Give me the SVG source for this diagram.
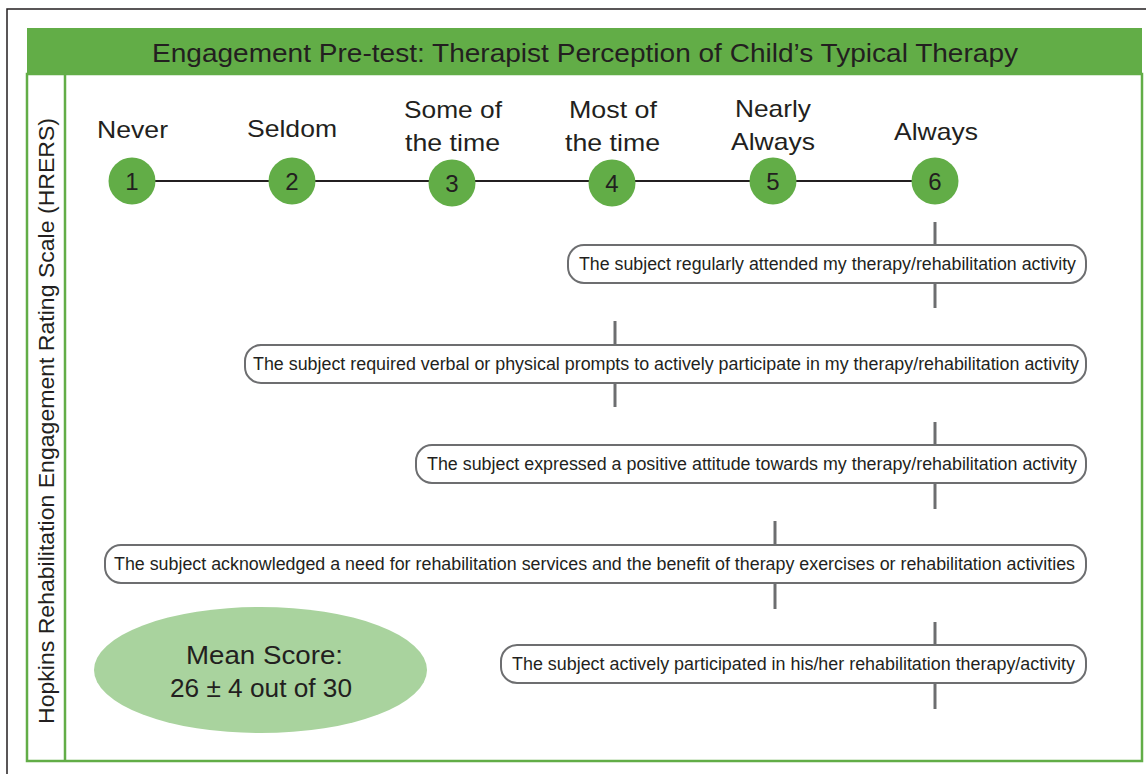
<svg xmlns="http://www.w3.org/2000/svg" width="1146" height="774" viewBox="0 0 1146 774">
<style>
.t{font-family:"Liberation Sans",Arial,sans-serif;fill:#231f20}
.lab{font-size:24px;text-anchor:middle}
.num{font-size:24px;text-anchor:middle}
.st{font-size:17.5px;text-anchor:middle}
.pill{fill:#fff;stroke:#6d6e70;stroke-width:2}
.tick{stroke:#6d6e70;stroke-width:3}
.dot{fill:#62ad47}
</style>
<rect x="0" y="0" width="1146" height="774" fill="#fff"/>
<path d="M7,774 V9 H1146" fill="none" stroke="#231f20" stroke-width="1.5"/>
<g id="frame">
<rect x="27" y="28" width="1115" height="46" fill="#62ad47"/>
<rect x="27" y="74" width="1115" height="687" fill="none" stroke="#62ad47" stroke-width="2.5"/>
<line x1="65" y1="74" x2="65" y2="761" stroke="#62ad47" stroke-width="2.5"/>
<text class="t" x="585" y="62" font-size="25.5" text-anchor="middle" textLength="866" lengthAdjust="spacingAndGlyphs">Engagement Pre-test: Therapist Perception of Child’s Typical Therapy</text>
<text class="t" transform="translate(54,421) rotate(-90)" font-size="22.5" text-anchor="middle" textLength="606" lengthAdjust="spacingAndGlyphs">Hopkins Rehabilitation Engagement Rating Scale (HRERS)</text>
</g>
<g id="connectors">
<line x1="132" y1="181" x2="935" y2="181" stroke="#231f20" stroke-width="2"/>
<line class="tick" x1="935" y1="222" x2="935" y2="245"/>
<line class="tick" x1="935" y1="283" x2="935" y2="308"/>
<line class="tick" x1="615" y1="321" x2="615" y2="345"/>
<line class="tick" x1="615" y1="383" x2="615" y2="407"/>
<line class="tick" x1="935" y1="422" x2="935" y2="445"/>
<line class="tick" x1="935" y1="483" x2="935" y2="509"/>
<line class="tick" x1="775" y1="521" x2="775" y2="545"/>
<line class="tick" x1="775" y1="583" x2="775" y2="609"/>
<line class="tick" x1="935" y1="622" x2="935" y2="645"/>
<line class="tick" x1="935" y1="683" x2="935" y2="709"/>
</g>
<g id="n1"><circle class="dot" cx="132" cy="181" r="23.5"/><text class="t num" x="132" y="190">1</text><text class="t lab" x="132.5" y="138" textLength="71" lengthAdjust="spacingAndGlyphs">Never</text></g>
<g id="n2"><circle class="dot" cx="292" cy="181" r="23.5"/><text class="t num" x="292" y="190">2</text><text class="t lab" x="292" y="137" textLength="90" lengthAdjust="spacingAndGlyphs">Seldom</text></g>
<g id="n3"><circle class="dot" cx="452" cy="183" r="23.5"/><text class="t num" x="452" y="192">3</text><text class="t lab" x="453" y="118" textLength="98" lengthAdjust="spacingAndGlyphs">Some of</text><text class="t lab" x="452.5" y="151" textLength="95" lengthAdjust="spacingAndGlyphs">the time</text></g>
<g id="n4"><circle class="dot" cx="612" cy="183" r="23.5"/><text class="t num" x="612" y="192">4</text><text class="t lab" x="613" y="118" textLength="88" lengthAdjust="spacingAndGlyphs">Most of</text><text class="t lab" x="612.5" y="151" textLength="95" lengthAdjust="spacingAndGlyphs">the time</text></g>
<g id="n5"><circle class="dot" cx="773" cy="181" r="23.5"/><text class="t num" x="773" y="190">5</text><text class="t lab" x="773" y="117" textLength="76" lengthAdjust="spacingAndGlyphs">Nearly</text><text class="t lab" x="773" y="150" textLength="84" lengthAdjust="spacingAndGlyphs">Always</text></g>
<g id="n6"><circle class="dot" cx="935" cy="181" r="23.5"/><text class="t num" x="935" y="190">6</text><text class="t lab" x="936" y="140" textLength="84" lengthAdjust="spacingAndGlyphs">Always</text></g>
<g id="s1"><rect class="pill" x="568" y="245" width="518" height="38" rx="16"/><text class="t st" x="827.5" y="270" textLength="497" lengthAdjust="spacingAndGlyphs">The subject regularly attended my therapy/rehabilitation activity</text></g>
<g id="s2"><rect class="pill" x="245" y="345" width="841" height="38" rx="16"/><text class="t st" x="666" y="370" textLength="826" lengthAdjust="spacingAndGlyphs">The subject required verbal or physical prompts to actively participate in my therapy/rehabilitation activity</text></g>
<g id="s3"><rect class="pill" x="416" y="445" width="670" height="38" rx="16"/><text class="t st" x="752" y="470" textLength="650" lengthAdjust="spacingAndGlyphs">The subject expressed a positive attitude towards my therapy/rehabilitation activity</text></g>
<g id="s4"><rect class="pill" x="105" y="545" width="981" height="38" rx="16"/><text class="t st" x="594.5" y="570" textLength="961" lengthAdjust="spacingAndGlyphs">The subject acknowledged a need for rehabilitation services and the benefit of therapy exercises or rehabilitation activities</text></g>
<g id="s5"><rect class="pill" x="501" y="645" width="585" height="38" rx="16"/><text class="t st" x="793.5" y="670" textLength="563" lengthAdjust="spacingAndGlyphs">The subject actively participated in his/her rehabilitation therapy/activity</text></g>
<g id="mean"><ellipse cx="260.5" cy="670" rx="166.5" ry="63" fill="#a9d39e"/><text class="t" x="264.5" y="663.5" font-size="25" text-anchor="middle" textLength="157" lengthAdjust="spacingAndGlyphs">Mean Score:</text><text class="t" x="261" y="696.5" font-size="25" text-anchor="middle" textLength="182" lengthAdjust="spacingAndGlyphs">26 ± 4 out of 30</text></g>
</svg>
